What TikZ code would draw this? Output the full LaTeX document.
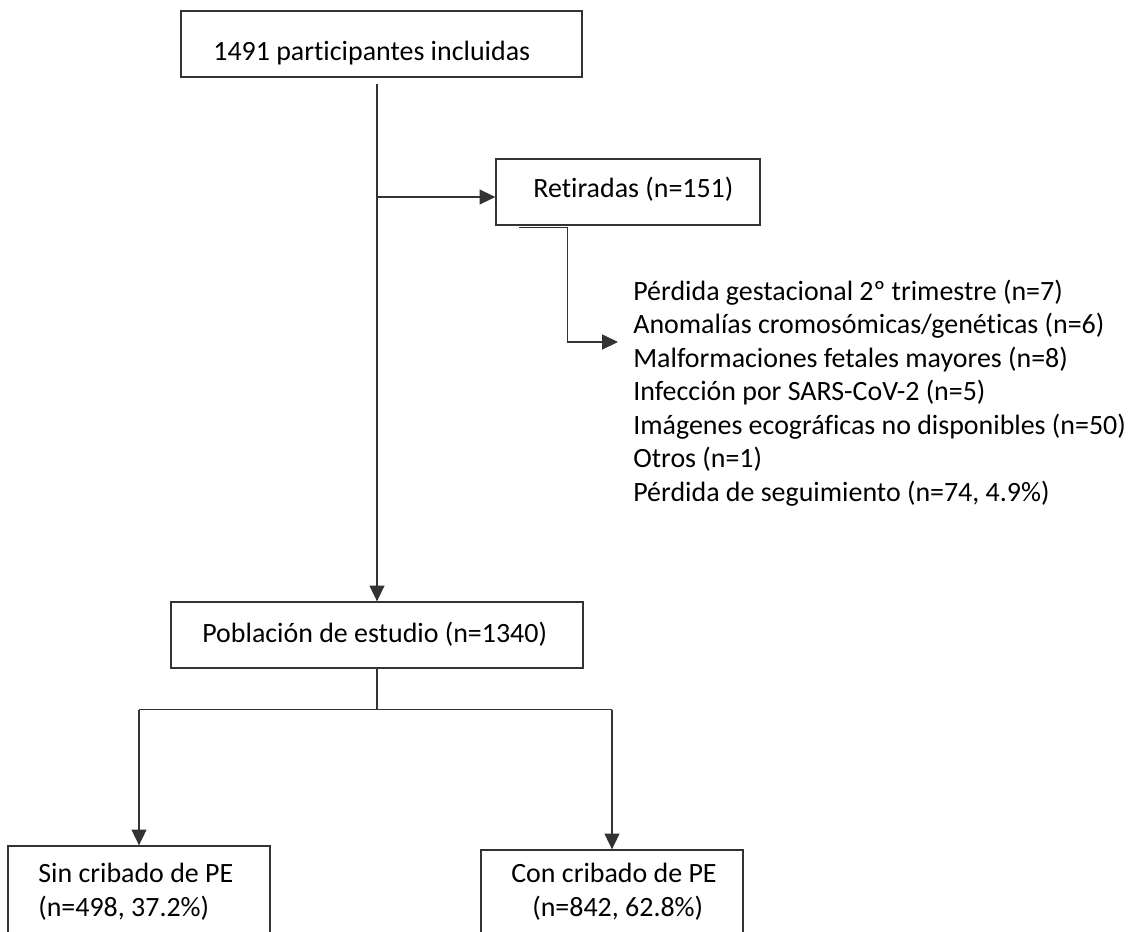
\documentclass[tikz,border=0pt]{standalone}
\usepackage{fontspec}
\setmainfont{Carlito}[Ligatures=NoCommon]
\usetikzlibrary{arrows.meta,fit,calc}
\begin{document}
\begin{tikzpicture}[x=0.02cm,y=-0.02cm,
  box/.style={draw=black!80, line width=0.75pt, inner sep=0pt},
  txt/.style={inner sep=0pt, anchor=base west, font=\fontsize{15.9}{19}\selectfont},
  conn/.style={draw=black!80, line width=0.75pt},
  arr/.style={conn, -{Triangle[length=9pt,width=8.5pt]}}]
\useasboundingbox (0,0) rectangle (1133,931);
\clip (0,0) rectangle (1133,931);
% boxes
\node[box, fit={(181,11) (582,77)}] (top) {};
\node[txt] (ttop) at (213,60) {1491 participantes incluidas};
\node[box, fit={(496,159) (760,225)}] (ret) {};
\node[txt] (tret) at (533,197) {Retiradas (n=151)};
\node[box, fit={(171,602) (583,668)}] (pop) {};
\node[txt] (tpop) at (202,642) {Población de estudio (n=1340)};
\node[box, fit={(8,846) (270,960)}] (sin) {};
\node[txt] (tsin1) at (38,882) {Sin cribado de PE};
\node[txt] (tsin2) at (38,916) {(n=498, 37.2\%)};
\node[box, fit={(481,850) (743,960)}] (con) {};
\node[txt] (tcon1) at (511,882) {Con cribado de PE};
\node[txt] (tcon2) at (532,916) {(n=842, 62.8\%)};
% exclusion list
\node[txt] (l1) at (633,300) {Pérdida gestacional 2º trimestre (n=7)};
\node[txt] (l2) at (633,333.5) {Anomalías cromosómicas/genéticas (n=6)};
\node[txt] (l3) at (633,367) {Malformaciones fetales mayores (n=8)};
\node[txt] (l4) at (633,400.5) {Infección por SARS-CoV-2 (n=5)};
\node[txt] (l5) at (633,434) {Imágenes ecográficas no disponibles (n=50)};
\node[txt] (l6) at (633,467.5) {Otros (n=1)};
\node[txt] (l7) at (633,501) {Pérdida de seguimiento (n=74, 4.9\%)};
% connectors
\coordinate (trunk) at ($(top.south)+(-4.5,6)$);
\coordinate (br) at (377,197);
\draw[arr] (trunk) -- (pop.north);
\draw[arr] (br) -- (ret.west|-br);
\coordinate (stub) at ($(ret.south west)+(24,2)$);
\coordinate (retdown) at ($(ret.south west)+(72,2)$);
\coordinate (listin) at (618,342);
\draw[arr] (stub) -- (retdown) |- (listin);
\coordinate (split) at ($(pop.south)+(0,41)$);
\draw[conn] (pop.south) -- (split);
\draw[conn] (sin.north|-split) -- (con.north|-split);
\draw[arr] (sin.north|-split) -- (sin.north);
\draw[arr] (con.north|-split) -- (con.north);
\end{tikzpicture}
\end{document}
